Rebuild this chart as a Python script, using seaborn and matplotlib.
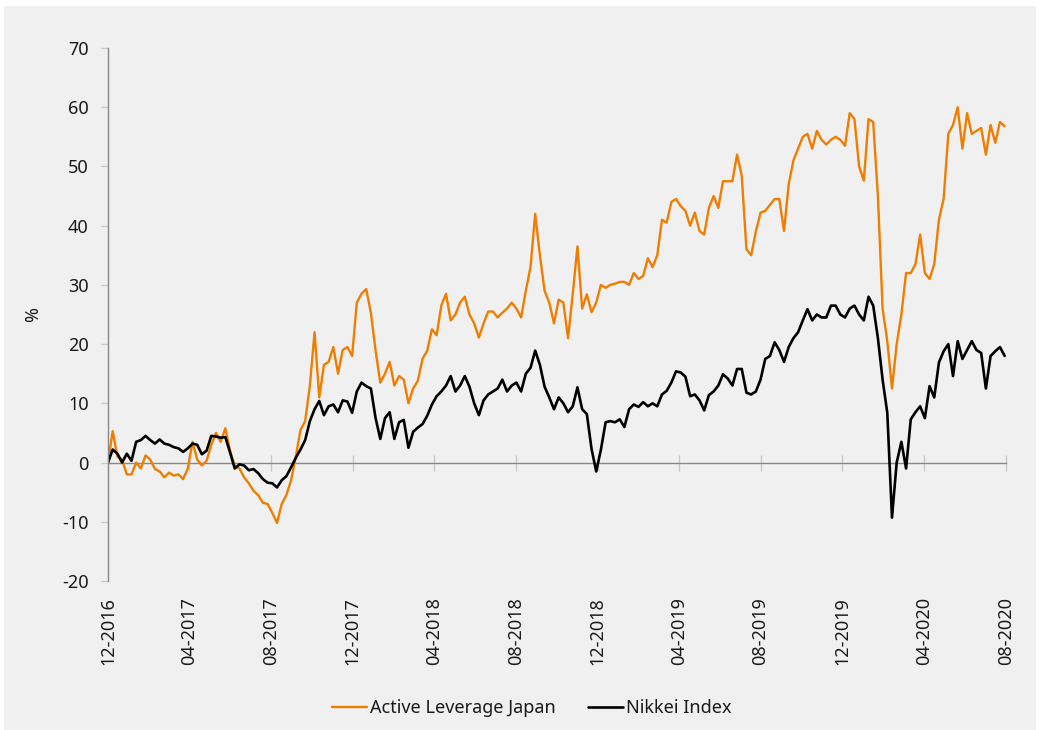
import matplotlib
matplotlib.use('Agg')
import matplotlib.pyplot as plt
import matplotlib.dates as mdates
from matplotlib.patches import Rectangle
import seaborn as sns
import pandas as pd

# ---- data (weekly readings, % cumulative performance) ----
series_names = ["Active Leverage Japan", "Nikkei Index"]
start_date = "2016-12-01"

active_leverage = [
    0, 5.3, 1, 0.5, -2, -2, 0, -1, 1.2, 0.5,
    -1.1, -1.5, -2.5, -1.7, -2.2, -2, -2.8, -1, 3.5, 0.5,
    -0.5, 0.3, 3, 5, 3.5, 5.8, 2, -0.6, -1, -2.5,
    -3.5, -4.8, -5.5, -6.8, -7, -8.5, -10.2, -7, -5.5, -3,
    1, 5.5, 7, 13, 22, 11, 16.5, 17, 19.5, 15,
    19, 19.5, 18, 27, 28.5, 29.3, 25.3, 18.9, 13.5, 15,
    17, 13, 14.6, 14, 10, 12.5, 13.8, 17.5, 18.9, 22.5,
    21.5, 26.5, 28.5, 24, 25, 27, 28, 25, 23.5, 21.1,
    23.5, 25.5, 25.5, 24.5, 25.3, 26, 27, 26, 24.5, 29,
    33, 42, 35, 29, 27, 23.5, 27.5, 27, 21, 28.5,
    36.5, 26, 28.4, 25.4, 27, 30, 29.5, 30, 30.2, 30.5,
    30.5, 30, 32, 31, 31.5, 34.5, 33, 35, 41, 40.5,
    44, 44.5, 43.3, 42.5, 40, 42.2, 39.1, 38.5, 43, 45,
    43, 47.5, 47.5, 47.5, 52, 48.4, 36, 35, 39, 42.2,
    42.5, 43.5, 44.5, 44.5, 39.1, 47, 51, 53, 55, 55.5,
    53, 56, 54.5, 53.7, 54.5, 55, 54.5, 53.5, 59, 58,
    50, 47.6, 58, 57.5, 45, 26, 20.5, 12.5, 20, 25,
    32, 32, 33.5, 38.5, 32, 31, 33.5, 41, 44.5, 55.5,
    57, 60, 53, 59, 55.5, 56, 56.5, 52, 57, 54,
    57.5, 56.8,
]

nikkei = [
    0, 2.2, 1.5, 0, 1.5, 0.3, 3.5, 3.8, 4.5, 3.8,
    3.2, 3.9, 3.2, 3, 2.6, 2.4, 1.8, 2.4, 3.2, 3,
    1.4, 2, 4.5, 4.4, 4.2, 4.3, 1.7, -1, -0.3, -0.5,
    -1.3, -1.1, -1.8, -2.8, -3.4, -3.5, -4.2, -3, -2.3, -0.8,
    0.8, 2.2, 3.8, 7, 9, 10.4, 8, 9.5, 9.8, 8.5,
    10.5, 10.3, 8.4, 12, 13.5, 12.9, 12.5, 7.5, 4, 7.5,
    8.5, 4, 6.8, 7.2, 2.5, 5.2, 5.9, 6.5, 7.9, 9.8,
    11.2, 12, 13, 14.6, 12, 13, 14.6, 12.8, 10, 8,
    10.5, 11.5, 12, 12.5, 14, 12, 13, 13.5, 12, 15,
    16, 18.9, 16.5, 12.8, 11, 9, 11, 10, 8.5, 9.5,
    12.7, 9, 8.2, 2.3, -1.5, 2.2, 6.8, 7, 6.8, 7.3,
    6, 9, 9.8, 9.4, 10.2, 9.5, 10, 9.5, 11.5, 12.1,
    13.5, 15.4, 15.2, 14.5, 11.2, 11.5, 10.5, 8.8, 11.4, 12,
    13, 14.9, 14.2, 13, 15.8, 15.8, 11.8, 11.5, 12, 14,
    17.5, 18, 20.3, 19, 17, 19.5, 21, 22, 24, 25.9,
    24, 25, 24.5, 24.5, 26.5, 26.5, 25, 24.5, 26, 26.5,
    25, 24, 28, 26.5, 21, 14, 8.4, -9.3, 0, 3.5,
    -1, 7.3, 8.5, 9.5, 7.5, 12.9, 11, 16.9, 18.8, 20,
    14.6, 20.5, 17.5, 19, 20.5, 19, 18.5, 12.5, 18, 18.8,
    19.5, 18,
]

y_ticks = list(range(-20, 80, 10))

# ---- styling ----
ORANGE = "#EE7D00"
BG = "#f0f0f0"
TXT = "#1a1a1a"

sns.set_theme(style="white")
plt.rcParams["font.family"] = ["Noto Sans", "DejaVu Sans"]
plt.rcParams["axes.unicode_minus"] = False

dates = pd.date_range(start=start_date, periods=len(active_leverage), freq="7D")
dates_b = pd.date_range(start=start_date, periods=len(nikkei), freq="7D")

fig = plt.figure(figsize=(10.4, 7.3), dpi=100, facecolor="white")
fig.patches.append(Rectangle((4 / 1040, 0), 1 - 8 / 1040, 1 - 6 / 730,
                             transform=fig.transFigure, facecolor=BG,
                             edgecolor="none", zorder=-10))

ax = fig.add_axes([108 / 1040, 1 - 581 / 730, 898 / 1040, 533 / 730])
ax.set_facecolor("none")

sns.lineplot(x=dates, y=active_leverage, color=ORANGE, lw=1.7, ax=ax,
             label=series_names[0])
sns.lineplot(x=dates_b, y=nikkei, color="black", lw=1.9, ax=ax,
             label=series_names[1])

ax.set_ylim(-20, 70)
ax.set_yticks(y_ticks)
ax.set_xlim(pd.Timestamp("2016-12-01"), pd.Timestamp("2020-08-01"))
ax.xaxis.set_major_locator(mdates.MonthLocator(bymonth=[4, 8, 12]))
ax.xaxis.set_major_formatter(mdates.DateFormatter("%m-%Y"))

for s in ["top", "right", "bottom"]:
    ax.spines[s].set_visible(False)
ax.spines["left"].set_color("#888888")
ax.spines["left"].set_linewidth(1)

ax.tick_params(axis="x", length=0, labelrotation=90, labelsize=13,
               pad=11.5, labelcolor=TXT)
ax.tick_params(axis="y", length=5, width=1, color="#c8c8c8", labelsize=13,
               pad=9, labelcolor=TXT, left=True)
ax.set_xlabel("")
ax.set_ylabel("%", fontsize=13, color=TXT, rotation=90)
ax.yaxis.set_label_coords(-(108 - 42) / 898, 0.5)
ax.grid(False)

# zero line with month ticks
sec = ax.secondary_xaxis(20 / 90)
sec.xaxis.set_major_locator(mdates.MonthLocator(bymonth=[4, 8, 12]))
sec.tick_params(direction="inout", length=12, width=1, color="#c8c8c8",
                labelbottom=False)
sec.spines["bottom"].set_color("#888888")
sec.spines["bottom"].set_linewidth(1)

handles, labels = ax.get_legend_handles_labels()
if ax.get_legend() is not None:
    ax.get_legend().remove()
fig.legend(handles, labels, loc="center", bbox_to_anchor=(532 / 1040, 1 - 708 / 730),
           ncol=2, frameon=False, fontsize=13, handlelength=1.9,
           handletextpad=0.2, columnspacing=1.8, labelcolor=TXT)

fig.savefig("out.png", dpi=100, facecolor=fig.get_facecolor())
